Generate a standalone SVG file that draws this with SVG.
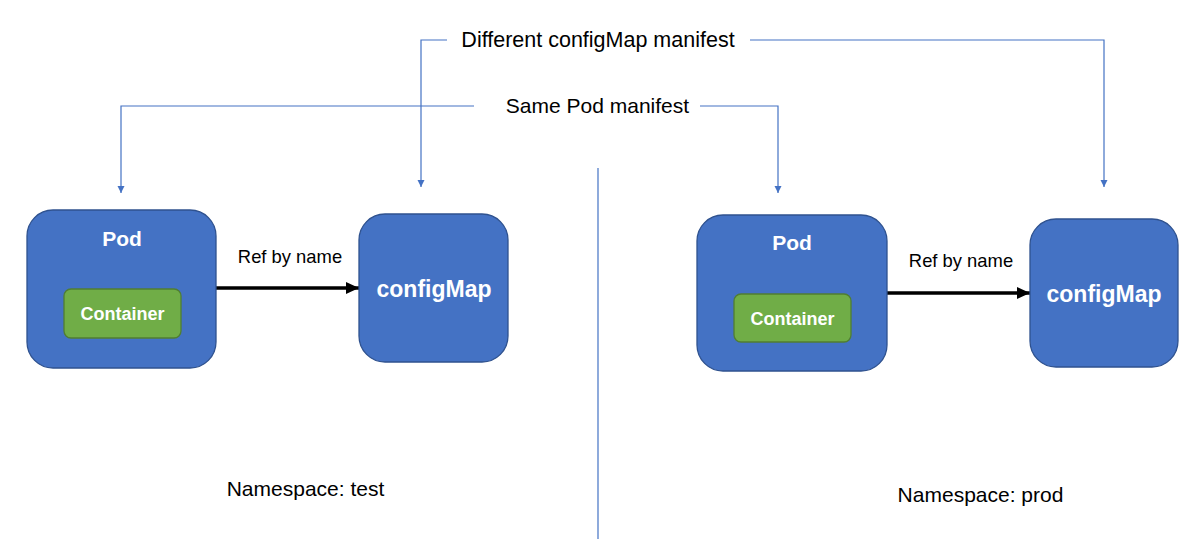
<svg xmlns="http://www.w3.org/2000/svg" width="1199" height="545" viewBox="0 0 1199 545">
<style>
.box{fill:#4472C4;stroke:#2F528F;stroke-width:1.3}
.cont{fill:#70AD47;stroke:#507E32;stroke-width:1.3}
.wt{fill:#fff;font-family:"Liberation Sans",Arial,sans-serif;font-weight:bold;text-anchor:middle}
.bt{fill:#000;font-family:"Liberation Sans",Arial,sans-serif}
.bl{fill:none;stroke:#4472C4;stroke-width:1.2}
.ref{fill:none;stroke:#000;stroke-width:3.5}
</style>
<defs>
<marker id="ba" markerWidth="8" markerHeight="8" refX="7" refY="4" orient="auto" markerUnits="userSpaceOnUse">
<path d="M0,0.5 L7,4 L0,7.5 Z" fill="#4472C4"/>
</marker>
<marker id="ka" markerWidth="14" markerHeight="14" refX="13" refY="7" orient="auto" markerUnits="userSpaceOnUse">
<path d="M0,1 L13,7 L0,13 Z" fill="#000"/>
</marker>
</defs>
<rect width="1199" height="545" fill="#fff"/>
<g id="connectors">
<polyline class="bl" points="447,40 421,40 421,187" marker-end="url(#ba)"/>
<polyline class="bl" points="750,40 1104,40 1104,187" marker-end="url(#ba)"/>
<polyline class="bl" points="474,106 121,106 121,193" marker-end="url(#ba)"/>
<polyline class="bl" points="700,106 778,106 778,193" marker-end="url(#ba)"/>
<line class="bl" x1="598" y1="168" x2="598" y2="539"/>
<line class="ref" x1="216" y1="288" x2="359" y2="288" marker-end="url(#ka)"/>
<line class="ref" x1="887" y1="293" x2="1030" y2="293" marker-end="url(#ka)"/>
</g>
<g id="labels">
<text class="bt" x="598" y="47" font-size="21.5" text-anchor="middle">Different configMap manifest</text>
<text class="bt" x="597.5" y="113" font-size="21" text-anchor="middle">Same Pod manifest</text>
<text class="bt" x="290" y="263" font-size="18.4" text-anchor="middle">Ref by name</text>
<text class="bt" x="961" y="267" font-size="18.4" text-anchor="middle">Ref by name</text>
<text class="bt" x="305.5" y="496" font-size="21" text-anchor="middle">Namespace: test</text>
<text class="bt" x="980.5" y="502" font-size="21" text-anchor="middle">Namespace: prod</text>
</g>
<g id="pod-test">
<rect class="box" x="27" y="210" width="189" height="158" rx="26"/>
<text class="wt" x="122" y="246" font-size="21">Pod</text>
</g>
<g id="container-test">
<rect class="cont" x="64" y="289" width="117" height="49" rx="7"/>
<text class="wt" x="122.5" y="320" font-size="18">Container</text>
</g>
<g id="configmap-test">
<rect class="box" x="359" y="214" width="149" height="148" rx="26"/>
<text class="wt" x="434" y="297" font-size="23">configMap</text>
</g>
<g id="pod-prod">
<rect class="box" x="697" y="215" width="190" height="156" rx="26"/>
<text class="wt" x="792" y="250" font-size="21">Pod</text>
</g>
<g id="container-prod">
<rect class="cont" x="734" y="294" width="117" height="48" rx="7"/>
<text class="wt" x="792.5" y="325" font-size="18">Container</text>
</g>
<g id="configmap-prod">
<rect class="box" x="1030" y="219" width="148" height="148" rx="26"/>
<text class="wt" x="1104" y="302" font-size="23">configMap</text>
</g>
</svg>
